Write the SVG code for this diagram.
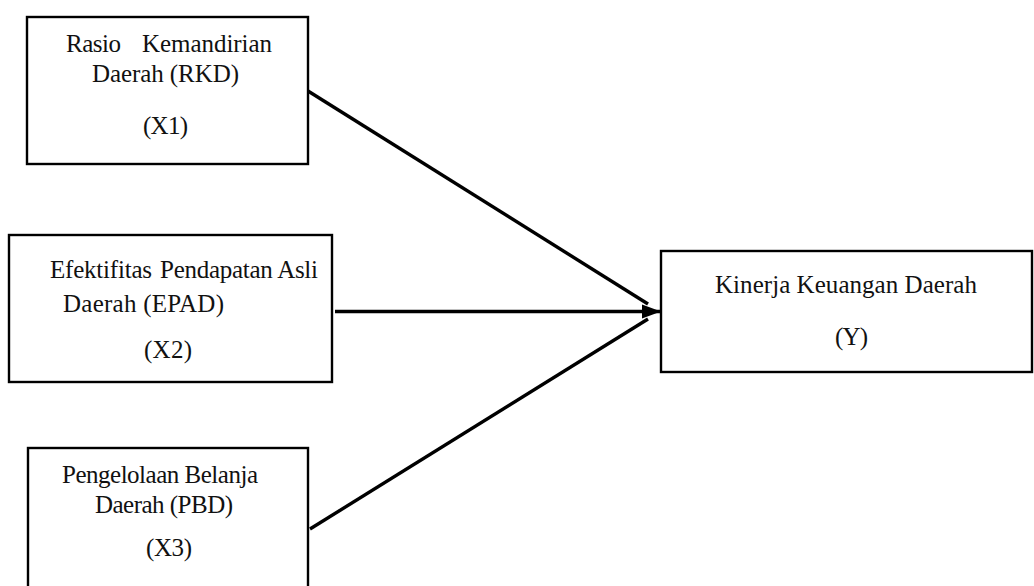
<svg xmlns="http://www.w3.org/2000/svg" width="1034" height="586" viewBox="0 0 1034 586">
<style>
.box{fill:#fff;stroke:#000;stroke-width:2.4}
.t{font-family:"Liberation Serif","Times New Roman",serif;font-size:25px;fill:#111}
.c{stroke:#000;stroke-width:3.4;fill:none}
</style>
<defs>
<marker id="arr" markerUnits="userSpaceOnUse" markerWidth="20" markerHeight="16" refX="19" refY="8" orient="auto">
<path d="M0,1 L19,8 L0,15 Z" fill="#000"/>
</marker>
</defs>
<rect width="1034" height="586" fill="#fff"/>
<g id="connectors">
<line class="c" x1="308" y1="91" x2="648" y2="304"/>
<line class="c" x1="335" y1="311.5" x2="661" y2="311.5" marker-end="url(#arr)"/>
<line class="c" x1="310" y1="529" x2="648" y2="319"/>
</g>
<g id="node-x1">
<rect class="box" x="27" y="17" width="281" height="147"/>
<text class="t" y="52"><tspan x="66" textLength="55">Rasio</tspan><tspan x="142" textLength="130">Kemandirian</tspan></text>
<text class="t" x="92" y="82" textLength="147">Daerah (RKD)</text>
<text class="t" x="143" y="134" textLength="45">(X1)</text>
</g>
<g id="node-x2">
<rect class="box" x="9" y="235" width="323" height="147"/>
<text class="t" y="278"><tspan x="50" textLength="102">Efektifitas</tspan><tspan x="160" textLength="158">Pendapatan Asli</tspan></text>
<text class="t" x="63" y="312" textLength="161">Daerah (EPAD)</text>
<text class="t" x="144" y="358" textLength="48">(X2)</text>
</g>
<g id="node-x3">
<rect class="box" x="28" y="448" width="280" height="160"/>
<text class="t" x="62" y="483" textLength="196">Pengelolaan Belanja</text>
<text class="t" x="95" y="513" textLength="138">Daerah (PBD)</text>
<text class="t" x="146" y="556" textLength="46">(X3)</text>
</g>
<g id="node-y">
<rect class="box" x="661" y="251" width="371" height="121"/>
<text class="t" x="715" y="293" textLength="262">Kinerja Keuangan Daerah</text>
<text class="t" x="835" y="345" textLength="33">(Y)</text>
</g>
</svg>
